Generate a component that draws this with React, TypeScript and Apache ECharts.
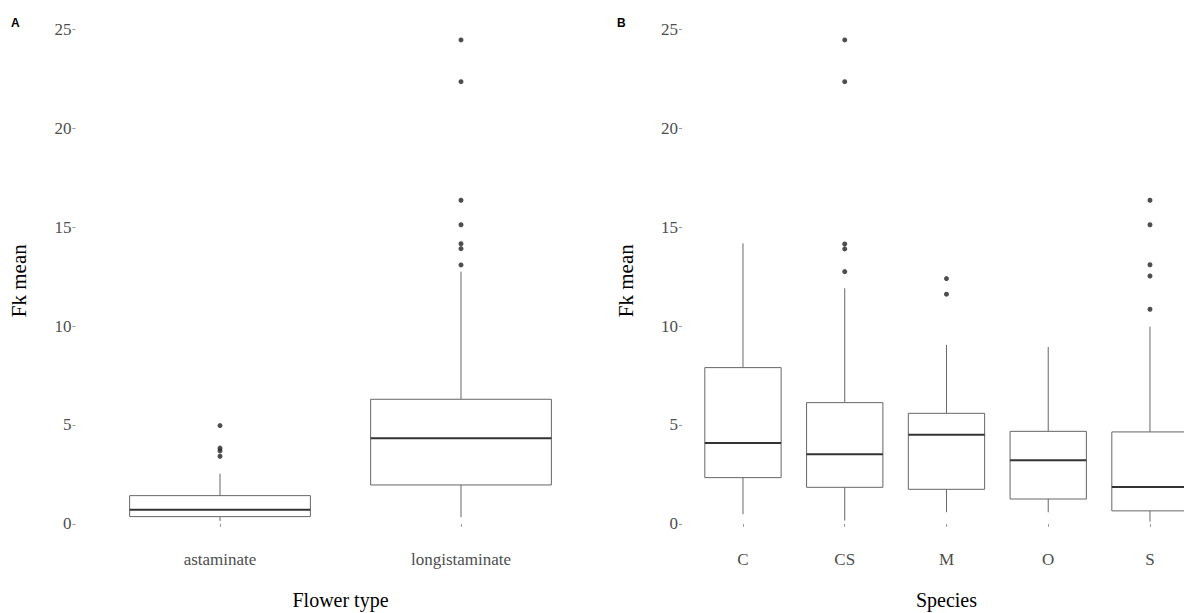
import React, { useEffect, useRef } from 'react';
import * as echarts from 'echarts';

// Panel A: Flower type
const flowerTypes = ['astaminate', 'longistaminate'];
// [lower whisker, Q1, median, Q3, upper whisker]
const flowerBoxes = [
  [0.15, 0.37, 0.72, 1.43, 2.54],
  [0.34, 1.97, 4.33, 6.3, 12.75],
];
const flowerOutliers = [
  [0, 4.97], [0, 3.83], [0, 3.69], [0, 3.42],
  [1, 24.46], [1, 22.35], [1, 16.36], [1, 15.12], [1, 14.16], [1, 13.91], [1, 13.09],
];

// Panel B: Species
const species = ['C', 'CS', 'M', 'O', 'S'];
const speciesBoxes = [
  [0.49, 2.34, 4.09, 7.9, 14.18],
  [0.17, 1.85, 3.52, 6.13, 11.91],
  [0.59, 1.75, 4.51, 5.59, 9.05],
  [0.59, 1.26, 3.22, 4.68, 8.94],
  [0.12, 0.66, 1.87, 4.65, 9.97],
];
const speciesOutliers = [
  [1, 24.46], [1, 22.35], [1, 14.15], [1, 13.9], [1, 12.75],
  [2, 12.4], [2, 11.61],
  [4, 16.36], [4, 15.12], [4, 13.1], [4, 12.53], [4, 10.85],
];

const yTicks = [0, 5, 10, 15, 20, 25];
const yMin = -1.1;
const yMax = 25.68;

const SERIF = 'Liberation Serif';
const TICK_COLOR = '#4d4d4d';

function xAxisCfg(gridIndex: number, data: string[], name: string) {
  return {
    type: 'category',
    gridIndex,
    data,
    name,
    nameLocation: 'middle',
    nameGap: 44,
    nameTextStyle: { fontFamily: SERIF, fontSize: 20, color: '#000' },
    axisLine: { show: false },
    axisTick: { show: true, alignWithLabel: true, length: 3, lineStyle: { color: '#999', width: 1 } },
    axisLabel: { fontFamily: SERIF, fontSize: 17, color: TICK_COLOR, margin: 5 },
    splitLine: { show: false },
  };
}

function yAxisCfg(gridIndex: number, offset: number) {
  return {
    type: 'value',
    gridIndex,
    min: yMin,
    max: yMax,
    offset,
    name: 'Fk mean',
    nameLocation: 'middle',
    nameRotate: 90,
    nameGap: 46,
    nameTextStyle: { fontFamily: SERIF, fontSize: 21, color: '#000' },
    axisLine: { show: false },
    axisTick: { show: true, length: 3, customValues: yTicks, lineStyle: { color: '#999', width: 1 } },
    axisLabel: { fontFamily: SERIF, fontSize: 17, color: TICK_COLOR, margin: 4, customValues: yTicks },
    splitLine: { show: false },
  };
}

function boxRender(params: any, api: any) {
  const i = api.value(0);
  const pMin = api.coord([i, api.value(1)]);
  const pQ1 = api.coord([i, api.value(2)]);
  const pMed = api.coord([i, api.value(3)]);
  const pQ3 = api.coord([i, api.value(4)]);
  const pMax = api.coord([i, api.value(5)]);
  const x = pMed[0];
  const w = api.size([1, 0])[0] * 0.75;
  const lineStyle = { stroke: '#666', lineWidth: 1, fill: null };
  return {
    type: 'group',
    children: [
      { type: 'line', shape: { x1: x, y1: pQ3[1], x2: x, y2: pMax[1] }, style: lineStyle },
      { type: 'line', shape: { x1: x, y1: pQ1[1], x2: x, y2: pMin[1] }, style: lineStyle },
      {
        type: 'rect',
        shape: { x: x - w / 2, y: pQ3[1], width: w, height: pQ1[1] - pQ3[1] },
        style: { stroke: '#666', lineWidth: 1, fill: '#fff' },
      },
      {
        type: 'line',
        shape: { x1: x - w / 2, y1: pMed[1], x2: x + w / 2, y2: pMed[1] },
        style: { stroke: '#333', lineWidth: 2 },
      },
    ],
  };
}

export default function App() {
  const ref = useRef<HTMLDivElement>(null);
  useEffect(() => {
    if (!ref.current) return;
    const chart = echarts.init(ref.current, null, { renderer: 'svg' });
    chart.setOption({
      animation: false,
      backgroundColor: '#fff',
      grid: [
        { left: 99.5, top: 15.8, width: 482, height: 529.9, outerBoundsMode: 'none', containLabel: false },
        { left: 692.1, top: 15.8, width: 508.75, height: 529.9, outerBoundsMode: 'none', containLabel: false },
      ],
      xAxis: [
        xAxisCfg(0, flowerTypes, 'Flower type'),
        xAxisCfg(1, species, 'Species'),
      ],
      yAxis: [yAxisCfg(0, 24.1), yAxisCfg(1, 10.1)],
      graphic: [
        { type: 'text', left: 11, top: 17, style: { text: 'A', font: 'bold 12px "Liberation Sans"', fill: '#000' } },
        { type: 'text', left: 617, top: 17, style: { text: 'B', font: 'bold 12px "Liberation Sans"', fill: '#000' } },
      ],
      series: [
        {
          type: 'custom', xAxisIndex: 0, yAxisIndex: 0, renderItem: boxRender,
          encode: { x: 0, y: [1, 2, 3, 4, 5] },
          data: flowerBoxes.map((b, i) => [i, ...b]),
        },
        {
          type: 'scatter', xAxisIndex: 0, yAxisIndex: 0, data: flowerOutliers,
          symbolSize: 5, itemStyle: { color: '#222' },
        },
        {
          type: 'custom', xAxisIndex: 1, yAxisIndex: 1, renderItem: boxRender,
          encode: { x: 0, y: [1, 2, 3, 4, 5] },
          data: speciesBoxes.map((b, i) => [i, ...b]),
        },
        {
          type: 'scatter', xAxisIndex: 1, yAxisIndex: 1, data: speciesOutliers,
          symbolSize: 5, itemStyle: { color: '#222' },
        },
      ],
    });
    return () => chart.dispose();
  }, []);
  return (
    <div
      ref={ref}
      style={{ position: 'fixed', left: 0, top: 0, width: 1184, height: 613, background: '#fff' }}
    />
  );
}
